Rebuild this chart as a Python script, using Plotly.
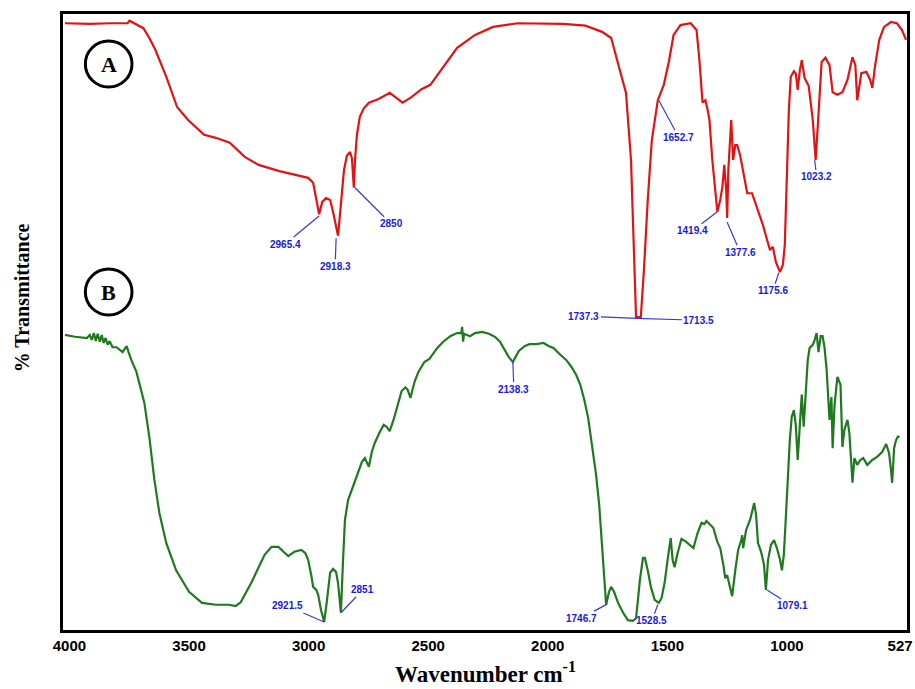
import plotly.graph_objects as go

# ---------------- data (wavenumber cm-1, % transmittance, arbitrary offset) ----------------
wn_a = [4019, 3915, 3832, 3757, 3749, 3724, 3691, 3666, 3641, 3595, 3550, 3504, 3437, 3388, 3330,
        3267, 3209, 3122, 3060, 3002, 2981, 2968, 2956, 2943, 2927, 2910, 2898, 2877, 2865, 2852,
        2840, 2827, 2819, 2811, 2806, 2798, 2786, 2769, 2748, 2707, 2661, 2636, 2607, 2570, 2528,
        2491, 2437, 2379, 2304, 2229, 2126, 2038, 1935, 1843, 1773, 1735, 1719, 1702, 1673, 1652,
        1640, 1631, 1611, 1598, 1582, 1565, 1540, 1515, 1494, 1474, 1445, 1403, 1378, 1366, 1353,
        1341, 1333, 1324, 1312, 1299, 1291, 1279, 1270, 1262, 1254, 1250, 1245, 1233, 1225, 1216,
        1208, 1196, 1179, 1166, 1146, 1121, 1100, 1083, 1071, 1059, 1046, 1029, 1017, 1009, 1000,
        992, 984, 971, 963, 955, 946, 938, 926, 909, 892, 880, 872, 863, 855, 839,
        822, 809, 789, 768, 747, 726, 714, 706, 697, 689, 668, 652, 643, 631, 614,
        594, 565, 540, 519, 502]
t_a = [98.5, 98.4, 98.5, 98.5, 98.9, 98.4, 97.7, 96.1, 94.2, 89.8, 84.9, 82.8, 80.4, 79.9, 79.1,
       76.8, 75.5, 74.5, 73.9, 73.4, 72.6, 69.8, 67.5, 69.5, 70.1, 69.8, 67.9, 64.0, 69.0, 74.7,
       77.0, 77.6, 76.6, 71.8, 76.3, 80.4, 83.3, 84.7, 85.6, 86.2, 87.2, 86.5, 85.6, 86.5, 87.8,
       88.5, 91.4, 94.5, 96.6, 97.9, 98.5, 98.5, 98.4, 98.1, 97.1, 96.1, 93.7, 91.4, 87.2, 76.3,
       60.1, 50.8, 50.8, 58.4, 69.8, 79.5, 86.0, 88.5, 92.2, 96.6, 98.2, 98.5, 97.4, 92.5, 85.6,
       86.0, 84.7, 82.8, 76.3, 70.6, 67.9, 69.8, 71.9, 75.5, 71.4, 66.9, 74.7, 82.8, 76.3, 78.7,
       78.7, 77.1, 73.9, 70.9, 70.9, 68.2, 65.7, 63.3, 61.7, 62.2, 59.7, 58.1, 59.3, 62.5, 73.1,
       84.4, 89.8, 90.7, 90.3, 87.7, 90.9, 92.5, 89.6, 88.3, 82.8, 76.3, 81.2, 87.7, 92.2, 92.9,
       91.7, 87.3, 86.9, 87.3, 89.3, 93.0, 91.7, 86.0, 88.5, 90.4, 90.6, 89.3, 88.0, 91.7, 95.8,
       97.9, 98.7, 98.5, 97.4, 95.8]

wn_b = [4019, 3977, 3927, 3915, 3907, 3898, 3890, 3882, 3873, 3865, 3857, 3849, 3840, 3832, 3820,
        3803, 3778, 3761, 3753, 3741, 3720, 3707, 3687, 3666, 3645, 3624, 3595, 3554, 3500, 3446,
        3388, 3334, 3305, 3284, 3263, 3238, 3209, 3184, 3155, 3126, 3105, 3085, 3060, 3031, 3014,
        3002, 2989, 2981, 2968, 2960, 2948, 2935, 2923, 2910, 2898, 2885, 2877, 2865, 2856, 2848,
        2835, 2815, 2794, 2777, 2765, 2748, 2736, 2723, 2703, 2686, 2674, 2661, 2645, 2628, 2611,
        2595, 2586, 2574, 2557, 2541, 2516, 2495, 2478, 2462, 2437, 2408, 2379, 2362, 2358, 2354,
        2350, 2325, 2304, 2275, 2246, 2221, 2200, 2180, 2163, 2146, 2134, 2121, 2096, 2076, 2047,
        2018, 1997, 1976, 1951, 1922, 1901, 1881, 1864, 1847, 1831, 1814, 1798, 1785, 1773, 1764,
        1756, 1744, 1735, 1723, 1706, 1685, 1665, 1644, 1631, 1623, 1615, 1602, 1594, 1582, 1569,
        1553, 1536, 1524, 1511, 1499, 1486, 1478, 1470, 1457, 1441, 1424, 1407, 1391, 1374, 1357,
        1345, 1337, 1324, 1308, 1291, 1279, 1266, 1258, 1250, 1241, 1229, 1216, 1204, 1191, 1187,
        1183, 1171, 1154, 1137, 1129, 1121, 1108, 1096, 1088, 1079, 1067, 1054, 1042, 1029, 1021,
        1013, 1004, 996, 988, 980, 971, 963, 955, 946, 938, 930, 922, 913, 905, 892,
        884, 876, 868, 859, 851, 843, 834, 830, 822, 814, 809, 801, 789, 776, 768,
        760, 747, 739, 731, 726, 718, 706, 693, 681, 664, 643, 623, 602, 585, 573,
        565, 560, 552, 544, 535, 531]
t_b = [47.9, 47.6, 47.4, 47.9, 47.1, 48.2, 46.9, 48.1, 46.8, 47.9, 46.6, 47.4, 46.3, 46.9, 45.9,
       45.9, 45.1, 46.1, 45.1, 43.8, 41.9, 40.1, 36.9, 31.3, 24.4, 19.0, 14.1, 9.7, 6.2, 4.4,
       4.1, 4.1, 3.9, 4.5, 6.0, 7.8, 10.2, 12.2, 13.5, 13.5, 12.7, 12.0, 12.7, 13.0, 12.5,
       11.4, 8.9, 7.0, 6.5, 5.7, 3.2, 1.3, 4.9, 9.3, 9.9, 9.4, 7.6, 2.8, 11.4, 17.9,
       21.1, 23.2, 25.6, 27.3, 27.9, 26.5, 28.9, 30.4, 32.1, 33.3, 33.0, 32.3, 34.1, 36.5, 38.8,
       39.4, 39.0, 37.7, 40.3, 41.9, 43.5, 44.0, 45.0, 45.8, 46.8, 47.7, 48.2, 48.2, 49.2, 46.8,
       48.1, 47.7, 48.2, 48.4, 48.1, 47.6, 46.8, 45.5, 44.3, 43.5, 44.3, 45.3, 46.1, 46.4, 46.4,
       46.6, 46.1, 45.8, 44.8, 43.8, 42.7, 41.4, 39.8, 37.3, 34.4, 30.0, 25.2, 20.3, 13.8, 7.3,
       4.1, 6.2, 7.0, 6.2, 4.4, 2.8, 1.6, 1.5, 1.9, 4.9, 8.1, 11.7, 11.7, 9.7, 7.0,
       4.9, 4.4, 5.2, 7.8, 11.4, 14.9, 11.4, 10.2, 12.5, 14.8, 14.4, 13.8, 13.3, 15.7, 17.4,
       17.2, 17.7, 17.2, 16.6, 14.3, 13.3, 10.6, 8.4, 8.9, 7.3, 5.5, 9.7, 13.0, 14.6, 15.4,
       13.3, 16.2, 17.9, 20.6, 18.7, 14.1, 12.7, 10.6, 6.5, 11.4, 13.8, 14.6, 13.3, 11.4, 9.7,
       12.2, 18.7, 26.0, 30.8, 34.6, 35.7, 33.3, 27.6, 33.3, 38.2, 33.0, 39.0, 43.8, 45.8, 46.3,
       47.1, 48.2, 45.1, 47.7, 47.7, 45.9, 42.2, 39.4, 34.1, 37.8, 29.5, 36.5, 41.1, 39.8, 29.7,
       32.5, 34.1, 32.0, 26.0, 23.9, 27.9, 26.8, 27.6, 27.9, 26.8, 27.6, 28.1, 28.9, 30.2, 28.7,
       26.0, 23.9, 29.5, 30.8, 31.5, 31.2]

# peak labels: text, wavenumber, transmittance of the labelled point
labels_a = ["2965.4", "2918.3", "2850", "1652.7", "1419.4", "1377.6", "1175.6", "1023.2", "1737.3", "1713.5"]
peak_wn_a = [2956, 2885, 2806, 1536, 1291, 1250, 1034, 884, 1627, 1627]
peak_t_a = [67.2, 63.6, 71.8, 86.0, 67.9, 66.2, 58.0, 76.3, 50.6, 50.6]
labels_b = ["2138.3", "2921.5", "2851", "1746.7", "1528.5", "1079.1"]
peak_wn_b = [2146, 2935, 2865, 1752, 1540, 1083]
peak_t_b = [43.5, 1.3, 2.8, 4.2, 4.1, 6.5]

tick_vals = [4000, 3500, 3000, 2500, 2000, 1500, 1000, 527]
tick_text = ["4000", "3500", "3000", "2500", "2000", "1500", "1000", "527"]

# ---------------- styling / layout (pixel offsets for labels) ----------------
offs_a = [(-34, 28), (-1, 28), (36, 36), (20, 37), (-25, 19), (13, 30), (-6, 18), (2, 17), (-53, -2), (62, 2)]
offs_b = [(1, 27), (-37, -16), (22, -23), (-26, 14), (-6, 16), (25, 16)]

fig = go.Figure()
fig.add_trace(go.Scatter(x=wn_a, y=t_a, mode="lines",
                         line=dict(color="#e01414", width=2.2), showlegend=False, hoverinfo="skip"))
fig.add_trace(go.Scatter(x=wn_b, y=t_b, mode="lines",
                         line=dict(color="#1f7a1f", width=2.2), showlegend=False, hoverinfo="skip"))

annots = []
for lab, xv, yv, (ax, ay) in list(zip(labels_a, peak_wn_a, peak_t_a, offs_a)) + \
        list(zip(labels_b, peak_wn_b, peak_t_b, offs_b)):
    annots.append(dict(x=xv, y=yv, xref="x", yref="y", text=lab, showarrow=True,
                       ax=ax, ay=ay, arrowhead=0, arrowwidth=1.2, arrowcolor="#3a3ad0",
                       font=dict(family="Liberation Sans, Arial", size=10, color="#1a1ad8", weight="bold"),
                       standoff=0))

# sample markers A and B
PW, PH = 850.0, 616.0
for letter, cy in [("A", 64), ("B", 292)]:
    cxp = (109 - 63) / PW
    cyp = (630 - cy) / PH
    fig.add_shape(type="circle", xref="paper", yref="paper",
                  x0=cxp - 23.5 / PW, x1=cxp + 23.5 / PW, y0=cyp - 23 / PH, y1=cyp + 23 / PH,
                  line=dict(color="black", width=3))
    annots.append(dict(x=cxp, y=cyp, xref="paper", yref="paper", text=letter, showarrow=False,
                       font=dict(family="Liberation Serif, Times New Roman", size=22, color="black", weight="bold"),
                       xanchor="center", yanchor="middle"))

# axis titles
annots.append(dict(x=(488 - 63) / PW, y=(630 - 672) / PH, xref="paper", yref="paper",
                   text="Wavenumber cm<sup>-1</sup>", showarrow=False, xanchor="center", yanchor="middle",
                   font=dict(family="Liberation Serif, Times New Roman", size=23, color="black", weight="bold")))
annots.append(dict(x=(22 - 63) / PW, y=(630 - 298) / PH, xref="paper", yref="paper",
                   text="% Transmittance", showarrow=False, textangle=-90, xanchor="center", yanchor="middle",
                   font=dict(family="Liberation Serif, Times New Roman", size=20, color="black", weight="bold")))

fig.update_layout(
    width=915, height=689,
    margin=dict(l=63, r=2, t=14, b=59),
    paper_bgcolor="white", plot_bgcolor="white",
    annotations=annots,
    xaxis=dict(range=[4027, 498], tickvals=tick_vals, ticktext=tick_text,
               showgrid=False, zeroline=False, showline=True, linecolor="black", linewidth=3,
               mirror=True, ticks="", ticklabeloverflow="allow",
               tickfont=dict(family="Liberation Sans Narrow, Arial Narrow, Liberation Sans", size=15,
                             color="black", weight="bold")),
    yaxis=dict(range=[0, 100], showticklabels=False, showgrid=False, zeroline=False,
               showline=True, linecolor="black", linewidth=3, mirror=True, ticks=""),
)

fig.write_html("out.html", config={"displayModeBar": False},
               post_script="document.body.style.margin='0';document.body.style.overflow='hidden';")
